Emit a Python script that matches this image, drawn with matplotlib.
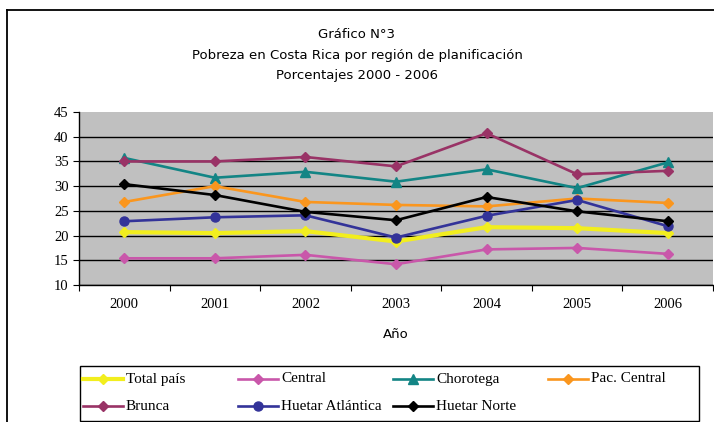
import matplotlib
matplotlib.use("Agg")
import matplotlib.pyplot as plt
from matplotlib.lines import Line2D
from matplotlib.patches import Rectangle

# Datos
years = ["2000", "2001", "2002", "2003", "2004", "2005", "2006"]
total_pais = [20.7, 20.5, 20.9, 18.8, 21.7, 21.5, 20.5]
central = [15.4, 15.4, 16.1, 14.2, 17.2, 17.5, 16.3]
chorotega = [35.7, 31.7, 32.9, 30.9, 33.4, 29.6, 34.8]
pac_central = [26.8, 30.0, 26.8, 26.2, 25.9, 27.5, 26.6]
brunca = [35.0, 35.0, 35.9, 34.0, 40.7, 32.4, 33.1]
huetar_atlantica = [22.9, 23.7, 24.1, 19.6, 24.0, 27.2, 21.9]
huetar_norte = [30.4, 28.2, 24.8, 23.1, 27.8, 24.9, 22.9]

series = [
    ("Total país", total_pais, "#F2EE1E", "D", 3.0),
    ("Central", central, "#C957AA", "D", 1.9),
    ("Chorotega", chorotega, "#138585", "^", 1.9),
    ("Pac. Central", pac_central, "#FA961E", "D", 1.9),
    ("Brunca", brunca, "#993366", "D", 1.9),
    ("Huetar Atlántica", huetar_atlantica, "#333399", "o", 1.9),
    ("Huetar Norte", huetar_norte, "#000000", "D", 1.9),
]
marker_size = {"D": 5.5, "^": 6.5, "o": 6.5}

W, H = 714, 422
fig = plt.figure(figsize=(W / 100, H / 100), dpi=100)

# marco exterior (solo izquierda y arriba visibles)
fig.add_artist(Line2D([7 / W, 7 / W], [0, 1 - 10 / H], color="black", lw=1.3))
fig.add_artist(Line2D([7 / W, 1], [1 - 10 / H, 1 - 10 / H], color="black", lw=1.3))

ax = fig.add_axes([79 / W, 1 - 285 / H, (713 - 79) / W, (285 - 112) / H])
ax.set_facecolor("#C0C0C0")

x = list(range(len(years)))
for name, vals, color, marker, lw in series:
    ax.plot(x, vals, color=color, lw=lw, marker=marker, ms=marker_size[marker],
            markeredgecolor=color, label=name)

ax.set_xlim(-0.5, len(years) - 0.5)
ax.set_ylim(10, 45)
ax.set_yticks(range(10, 50, 5))
ax.grid(axis="y", color="black", lw=1)
ax.yaxis.get_gridlines()[-1].set_visible(False)
ax.set_axisbelow(True)

ax.set_xticks([i - 0.5 for i in range(len(years) + 1)])
ax.set_xticklabels([])
ax.set_xticks(x, minor=True)
ax.set_xticklabels(years, minor=True, family="Liberation Serif", fontsize=10.5)
ax.tick_params(axis="x", which="major", length=4, direction="out")
ax.tick_params(axis="x", which="minor", length=0, pad=9)
ax.tick_params(axis="y", length=4, direction="out", labelsize=10.5)
for lab in ax.get_yticklabels():
    lab.set_family("Liberation Serif")

for s in ["top", "right"]:
    ax.spines[s].set_visible(False)
ax.spines["left"].set_linewidth(1)
ax.spines["bottom"].set_linewidth(1)

title_font = dict(ha="center", va="center", family="DejaVu Sans", fontsize=9.5)
fig.text(357 / W, 1 - 34 / H, "Gráfico N°3", **title_font)
fig.text(357 / W, 1 - 55 / H, "Pobreza en Costa Rica por región de planificación", **title_font)
fig.text(357 / W, 1 - 75 / H, "Porcentajes 2000 - 2006", **title_font)
fig.text(396 / W, 1 - 335 / H, "Año", **title_font)

# leyenda dibujada a mano: 4 columnas de ancho fijo, orden por filas
fig.add_artist(Rectangle((80 / W, 1 - 421 / H), (699 - 80) / W, (421 - 366) / H,
                         transform=fig.transFigure, fill=False, ec="black", lw=1))
for i, (name, vals, color, marker, lw) in enumerate(series):
    col, row = i % 4, i // 4
    x0 = 83 + 155 * col
    y0 = 1 - (379 + 27 * row) / H
    fig.add_artist(Line2D([x0 / W, (x0 + 40) / W], [y0, y0], color=color, lw=lw))
    fig.add_artist(Line2D([(x0 + 20) / W], [y0], color=color, marker=marker,
                          ms=marker_size[marker], markeredgecolor=color))
    fig.text((x0 + 43) / W, y0, name, ha="left", va="center",
             family="Liberation Serif", fontsize=11)

fig.savefig("out.png", dpi=100)
